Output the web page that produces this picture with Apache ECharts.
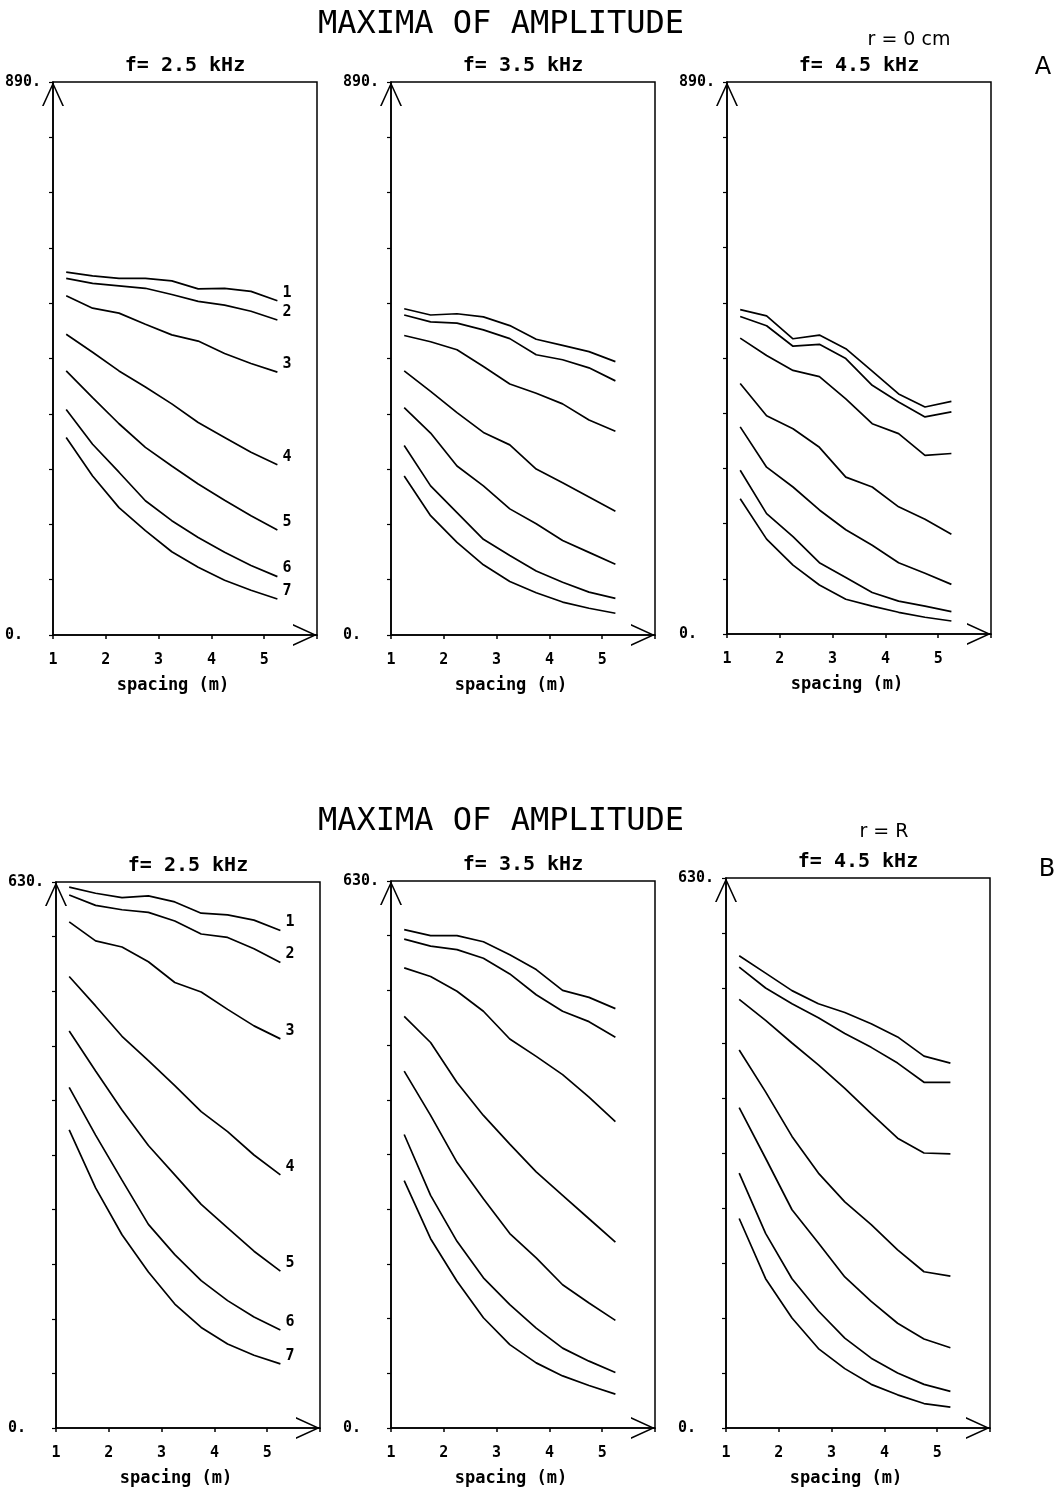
<!DOCTYPE html>
<html><head><meta charset="utf-8">
<script src="https://cdn.jsdelivr.net/npm/echarts@6/dist/echarts.min.js"></script>
<style>html,body{margin:0;padding:0;background:#fff}#c{width:1058px;height:1488px}</style>
</head><body><div id="c"></div>
<script>
// ---- data ----
const spacing = [1.25, 1.75, 2.25, 2.75, 3.25, 3.75, 4.25, 4.75, 5.25];
const curveIds = ['1', '2', '3', '4', '5', '6', '7'];
const xTickLabels = [1, 2, 3, 4, 5];
const freqTitles = ['f= 2.5 kHz', 'f= 3.5 kHz', 'f= 4.5 kHz'];
const yMaxA = 890;
const yMaxB = 630;

// r = 0 cm
const A_25 = [
  [584, 578, 574, 574, 570, 557, 558, 553, 538],
  [574, 566, 562, 558, 548, 537, 531, 521, 507],
  [546, 526, 518, 500, 483, 473, 453, 437, 423],
  [484, 455, 425, 399, 372, 342, 318, 294, 274],
  [425, 382, 340, 302, 272, 243, 217, 192, 169],
  [363, 307, 262, 216, 184, 157, 133, 112, 94],
  [318, 256, 205, 168, 134, 109, 88, 72, 58]
];
const A_35 = [
  [525, 515, 517, 512, 498, 476, 466, 456, 440],
  [515, 504, 502, 491, 477, 451, 443, 430, 409],
  [482, 472, 459, 432, 404, 389, 372, 346, 328],
  [425, 392, 358, 326, 306, 267, 245, 222, 199],
  [366, 325, 272, 240, 203, 179, 152, 133, 114],
  [305, 240, 197, 154, 128, 103, 85, 69, 59],
  [256, 192, 149, 113, 86, 68, 53, 43, 35]
];
const A_45 = [
  [523, 513, 476, 482, 460, 424, 387, 366, 375],
  [512, 497, 464, 467, 444, 401, 374, 350, 358],
  [477, 449, 425, 415, 379, 339, 323, 288, 291],
  [404, 352, 331, 301, 253, 237, 205, 185, 161],
  [334, 269, 237, 200, 168, 143, 115, 98, 80],
  [264, 194, 157, 115, 91, 67, 53, 45, 36],
  [218, 153, 111, 79, 56, 45, 35, 27, 21]
];
// r = R
const B_25 = [
  [624, 617, 612, 614, 607, 594, 592, 586, 574],
  [615, 603, 598, 595, 585, 570, 566, 553, 537],
  [584, 562, 555, 538, 514, 503, 483, 464, 449],
  [521, 487, 452, 424, 395, 365, 342, 315, 292],
  [458, 412, 367, 326, 292, 258, 231, 204, 181],
  [393, 338, 286, 235, 200, 170, 147, 128, 113],
  [344, 277, 223, 180, 143, 116, 97, 84, 74]
];
const B_35 = [
  [574, 567, 567, 560, 545, 528, 504, 496, 483],
  [563, 555, 551, 541, 523, 499, 480, 468, 450],
  [530, 520, 503, 480, 448, 428, 407, 381, 353],
  [474, 444, 398, 360, 327, 295, 268, 241, 214],
  [411, 360, 306, 264, 224, 196, 165, 144, 124],
  [338, 268, 215, 173, 142, 115, 92, 77, 64],
  [285, 218, 169, 127, 96, 75, 60, 49, 39]
];
const B_45 = [
  [541, 521, 501, 486, 476, 463, 448, 426, 418],
  [528, 504, 486, 470, 452, 436, 418, 396, 396],
  [491, 467, 441, 416, 389, 360, 332, 315, 314],
  [433, 385, 334, 292, 259, 233, 204, 179, 174],
  [367, 309, 250, 212, 173, 145, 120, 102, 92],
  [292, 223, 171, 134, 103, 80, 63, 50, 42],
  [240, 171, 126, 91, 68, 50, 38, 28, 24]
];

// ---- layout ----
const panels = [
  { data: A_25, ymax: yMaxA, left: 53, top: 82, h: 553, labels: true, title: freqTitles[0] },
  { data: A_35, ymax: yMaxA, left: 391, top: 82, h: 553, title: freqTitles[1] },
  { data: A_45, ymax: yMaxA, left: 727, top: 82, h: 552, title: freqTitles[2] },
  { data: B_25, ymax: yMaxB, left: 56, top: 882, h: 550, labels: true, title: freqTitles[0] },
  { data: B_35, ymax: yMaxB, left: 391, top: 881, h: 550, title: freqTitles[1] },
  { data: B_45, ymax: yMaxB, left: 726, top: 878, h: 550, title: freqTitles[2] }
];
const W = 264;
const arrowPath = 'path://M0,24L11,0L22,24L20.3,24L11,3.6L1.7,24Z';
const MONO = '"DejaVu Sans Mono", monospace';

const grid = [], xAxis = [], yAxis = [], series = [], graphic = [];
panels.forEach((p, i) => {
  grid.push({ left: p.left, top: p.top, width: W, height: p.h, show: true,
    borderColor: '#000', borderWidth: 1.5, backgroundColor: 'transparent' });
  xAxis.push({
    type: 'value', gridIndex: i, min: 1, max: 6, interval: 1,
    axisLine: { show: true, lineStyle: { color: '#000', width: 1.6 },
      symbol: ['none', arrowPath], symbolSize: [22, 24], symbolOffset: [0, -12] },
    axisTick: { show: true, length: 4, lineStyle: { color: '#000', width: 1.5 } },
    splitLine: { show: false },
    axisLabel: { margin: 18, color: '#000', fontFamily: MONO, fontWeight: 'bold', fontSize: 15,
      formatter: v => (xTickLabels.indexOf(v) >= 0 ? String(v) : '') },
    name: 'spacing (m)', nameLocation: 'middle', nameGap: 42,
    nameTextStyle: { color: '#000', fontFamily: MONO, fontWeight: 'bold', fontSize: 17, padding: [0, 24, 0, 0] }
  });
  yAxis.push({
    type: 'value', gridIndex: i, min: 0, max: p.ymax, interval: p.ymax / 10,
    axisLine: { show: true, lineStyle: { color: '#000', width: 1.6 },
      symbol: ['none', arrowPath], symbolSize: [22, 24], symbolOffset: [0, -12] },
    axisTick: { show: true, length: 4, lineStyle: { color: '#000', width: 1.2 } },
    splitLine: { show: false },
    axisLabel: { margin: 48, align: 'left', color: '#000', fontFamily: MONO, fontWeight: 'bold', fontSize: 15,
      padding: [4, 0, 0, 0],
      formatter: v => (v === 0 ? '0.' : (v === p.ymax ? p.ymax + '.' : '')) }
  });
  p.data.forEach((vals, k) => {
    series.push({
      type: 'line', name: curveIds[k], xAxisIndex: i, yAxisIndex: i,
      data: spacing.map((x, j) => [x, vals[j]]),
      symbol: 'none', smooth: false, animation: false,
      lineStyle: { color: '#000', width: 1.7 },
      endLabel: p.labels ? { show: true, formatter: q => q.seriesName, distance: 5, offset: [0, -8],
        color: '#000', fontFamily: MONO, fontWeight: 'bold', fontSize: 15 } : { show: false }
    });
  });
  graphic.push({ type: 'text', x: p.left + 132, y: p.top - 16,
    style: { text: p.title, align: 'center', verticalAlign: 'middle', fill: '#000',
      font: 'bold 20px "DejaVu Sans Mono"' } });
});

const headStyle = (t, x, y, font) => ({ type: 'text', x, y,
  style: { text: t, align: 'center', verticalAlign: 'middle', fill: '#000', font } });
graphic.push(headStyle('MAXIMA OF AMPLITUDE', 501, 25, '32px "DejaVu Sans Mono"'));
graphic.push(headStyle('r = 0 cm', 909, 40, '19px "DejaVu Sans"'));
graphic.push(headStyle('A', 1043, 68, '24px "DejaVu Sans"'));
graphic.push(headStyle('MAXIMA OF AMPLITUDE', 501, 822, '32px "DejaVu Sans Mono"'));
graphic.push(headStyle('r = R', 884, 832, '19px "DejaVu Sans"'));
graphic.push(headStyle('B', 1047, 870, '24px "DejaVu Sans"'));

const chart = echarts.init(document.getElementById('c'), null, { renderer: 'canvas' });
chart.setOption({ backgroundColor: '#fff', animation: false, grid, xAxis, yAxis, series, graphic });
</script></body></html>
